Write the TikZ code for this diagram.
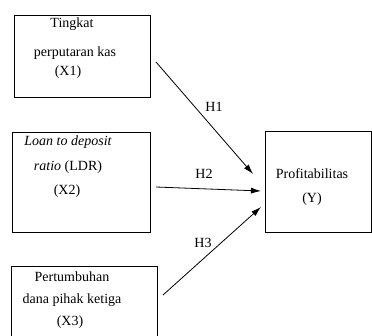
\documentclass[tikz,border=0pt]{standalone}
\usepackage{fontspec}
\setmainfont{Liberation Serif}
\usetikzlibrary{arrows.meta}

\begin{document}
\begin{tikzpicture}[x=1pt,y=-1pt,
    box/.style={draw,line width=0.9pt,inner sep=0pt,anchor=north west},
    txt/.style={font=\fontsize{14}{16}\selectfont,inner sep=0pt},
    hyp/.style={-{Latex[length=10pt,width=6pt]},line width=0.8pt}]

                \useasboundingbox (0,0) rectangle (372,335);

                % boxes
                \node[box,minimum width=136pt,minimum height=82pt] (bx1) at (14,15) {};
                \node[box,minimum width=138pt,minimum height=100pt] (bx2) at (12,132) {};
                \node[box,minimum width=146pt,minimum height=90pt] (bx3) at (11,266) {};
                \node[box,minimum width=106pt,minimum height=101pt] (by) at (265,131) {};

                % texts
                \node[txt] (t1a) at (72,24) {Tingkat};
                \node[txt] (t1b) at (75,53) {perputaran kas};
                \node[txt] (t1c) at (68,72) {(X1)};
                \node[txt] (t2a) at (68,142) {\itshape Loan to deposit};
                \node[txt] (t2b) at (68,167) {\itshape ratio \upshape(LDR)};
                \node[txt] (t2c) at (67,191) {(X2)};
                \node[txt] (t3a) at (72,277) {Pertumbuhan};
                \node[txt] (t3b) at (72,300) {dana pihak ketiga};
                \node[txt] (t3c) at (70,322) {(X3)};
                \node[txt] (ty1) at (312,174) {Profitabilitas};
                \node[txt] (ty2) at (312,199) {(Y)};

                % arrows
                \coordinate (s1) at (156,62);
                \coordinate (e1) at (253,174);
                \coordinate (s2) at (156,187);
                \coordinate (e2) at (261,191);
                \coordinate (s3) at (163,295);
                \coordinate (e3) at (261,207);
                \draw[hyp] (s1) -- (e1);
                \draw[hyp] (s2) -- (e2);
                \draw[hyp] (s3) -- (e3);
                \node[txt] (h1) at (214,107) {H1};
                \node[txt] (h2) at (204,174) {H2};
                \node[txt] (h3) at (203,243) {H3};

            \end{tikzpicture}
\end{document}
